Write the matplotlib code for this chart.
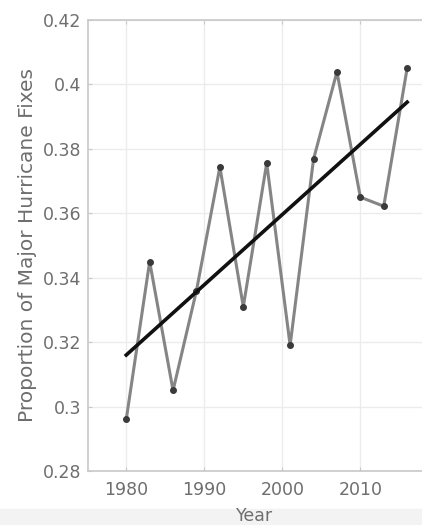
import matplotlib
matplotlib.use("Agg")
import matplotlib.pyplot as plt
from matplotlib.patches import Rectangle

years = [1980, 1983, 1986, 1989, 1992, 1995, 1998, 2001, 2004, 2007, 2010, 2013, 2016]
props = [0.296, 0.345, 0.305, 0.336, 0.3744, 0.331, 0.3756, 0.319, 0.3768, 0.4039, 0.365, 0.3622, 0.4051]
trend_years = [1980, 2016]
trend_vals = [0.316, 0.3945]

xticks = [1980, 1990, 2000, 2010]
yticks = [0.28, 0.3, 0.32, 0.34, 0.36, 0.38, 0.4, 0.42]
ytick_labels = ["0.28", "0.3", "0.32", "0.34", "0.36", "0.38", "0.4", "0.42"]

W, H = 422, 525
fig = plt.figure(figsize=(W / 100, H / 100), dpi=100)
fig.patches.append(Rectangle((0, 0), 1, 16 / H, transform=fig.transFigure,
                             color="#f3f3f3", zorder=-5))

ax = fig.add_axes([88 / W, 1 - 471 / H, (W - 88) / W, (471 - 20) / H])
ax.plot(years, props, color="#858585", lw=2.2, zorder=3)
ax.plot(years, props, "o", color="#3a3a3a", ms=4, zorder=4)
ax.plot(trend_years, trend_vals, color="#111111", lw=2.6, zorder=5)

ax.set_xlim(1975.1, 2017.9)
ax.set_ylim(0.28, 0.42)
ax.set_xticks(xticks)
ax.set_yticks(yticks)
ax.set_yticklabels(ytick_labels)
ax.grid(True, color="#ececec", lw=1)
ax.set_axisbelow(True)
for s in ["left", "top", "bottom"]:
    ax.spines[s].set_color("#c8c8c8")
    ax.spines[s].set_linewidth(1.2)
ax.spines["right"].set_visible(False)
ax.tick_params(colors="#c8c8c8", labelcolor="#6e6e6e", labelsize=12.5, length=3,
               direction="in", top=True)
ax.tick_params(axis="x", pad=7)
ax.tick_params(axis="y", pad=5)
ax.set_xlabel("Year", color="#6e6e6e", fontsize=12.5, labelpad=6)
ax.set_ylabel("Proportion of Major Hurricane Fixes", color="#6e6e6e", fontsize=14.5, labelpad=4)

fig.savefig("out.png", dpi=100)
